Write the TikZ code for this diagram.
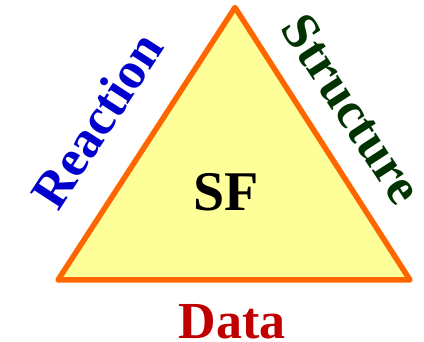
\documentclass[tikz,border=0pt]{standalone}
\usepackage{fontspec}
\setmainfont{Liberation Serif}
\definecolor{edgeorange}{HTML}{FF6600}
\definecolor{paleyellow}{HTML}{FFFF99}
\definecolor{reactblue}{HTML}{0000CC}
\definecolor{structgreen}{HTML}{003300}
\definecolor{datared}{HTML}{C00000}
\tikzset{
  corner/.style={line width=5.5pt, draw=edgeorange, fill=paleyellow, line join=round},
  lbl/.style={font=\bfseries\fontsize{52}{60}\selectfont, inner sep=0pt},
}
\begin{document}
\begin{tikzpicture}[x=1pt,y=1pt]
  \useasboundingbox (0,0) rectangle (424,342);
  % corners of the triangle
  \coordinate (top) at (235,334.5);
  \coordinate (bl) at (58,62);
  \coordinate (br) at (410,62);
  \path[corner] (top) -- (bl) -- (br) -- cycle;
  % labels
  \node[lbl, font=\bfseries\fontsize{56}{64}\selectfont] (sf) at (226,150) {SF};
  \node[lbl, text=reactblue, rotate=57] (reaction) at (97,222) {Reaction};
  \node[lbl, text=structgreen, rotate=-57] (structure) at (352,233) {Structure};
  \node[lbl, text=datared] (data) at (232,20) {Data};
\end{tikzpicture}
\end{document}
